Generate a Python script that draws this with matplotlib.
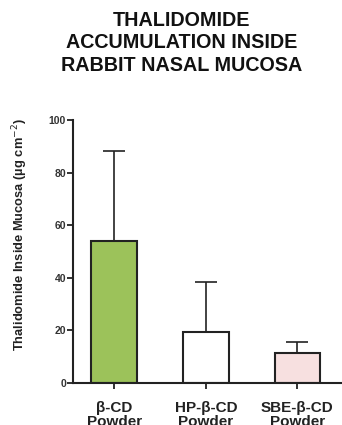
import matplotlib
matplotlib.use("Agg")
import matplotlib.pyplot as plt

plt.rcParams['font.family'] = ['Liberation Sans', 'DejaVu Sans']

categories = ["β-CD\nPowder", "HP-β-CD\nPowder", "SBE-β-CD\nPowder"]
means = [54, 19.2, 11.5]
errors = [34.2, 19.1, 4.1]
colors = ["#9cc25a", "#ffffff", "#f7e0e0"]
yticks = [0, 20, 40, 60, 80, 100]

fig = plt.figure(figsize=(3.42, 4.25), dpi=100)
ax = fig.add_axes([0.2135, 0.0995, 0.79, 0.618])

x = list(range(len(categories)))
ax.bar(x, means, width=0.5, color=colors, edgecolor="#222222", linewidth=1.5, zorder=2)
ax.errorbar(x, means, yerr=[[0] * len(errors), errors], fmt="none",
            ecolor="#222222", elinewidth=1.2, capsize=8, capthick=1.2, zorder=1)

ax.set_xlim(-0.45, 2.5)
ax.set_ylim(0, 100)
ax.set_yticks(yticks)
ax.set_xticks(x)
ax.set_xticklabels(categories, fontsize=11, fontweight="bold", color="#333333",
                   linespacing=1.05)
ax.tick_params(axis="y", labelsize=7.5, colors="#222222", length=4, width=1.3, pad=1)
ax.tick_params(axis="x", length=4, width=1.3, pad=9, colors="#222222")
for lbl in ax.get_yticklabels():
    lbl.set_fontweight("bold")
    lbl.set_color("#333333")

for side in ("top", "right"):
    ax.spines[side].set_visible(False)
for side in ("left", "bottom"):
    ax.spines[side].set_linewidth(1.5)
    ax.spines[side].set_color("#222222")

ax.set_ylabel("Thalidomide Inside Mucosa (µg cm$^{-2}$)", fontsize=9.3,
              fontweight="bold", color="#222222")
ax.yaxis.set_label_coords(-0.16, 0.565)

fig.text(0.532, 0.975, "THALIDOMIDE\nACCUMULATION INSIDE\nRABBIT NASAL MUCOSA",
         ha="center", va="top", fontsize=14.2, fontweight="bold",
         color="#111111", linespacing=1.25)

fig.savefig("out.png", dpi=100)
